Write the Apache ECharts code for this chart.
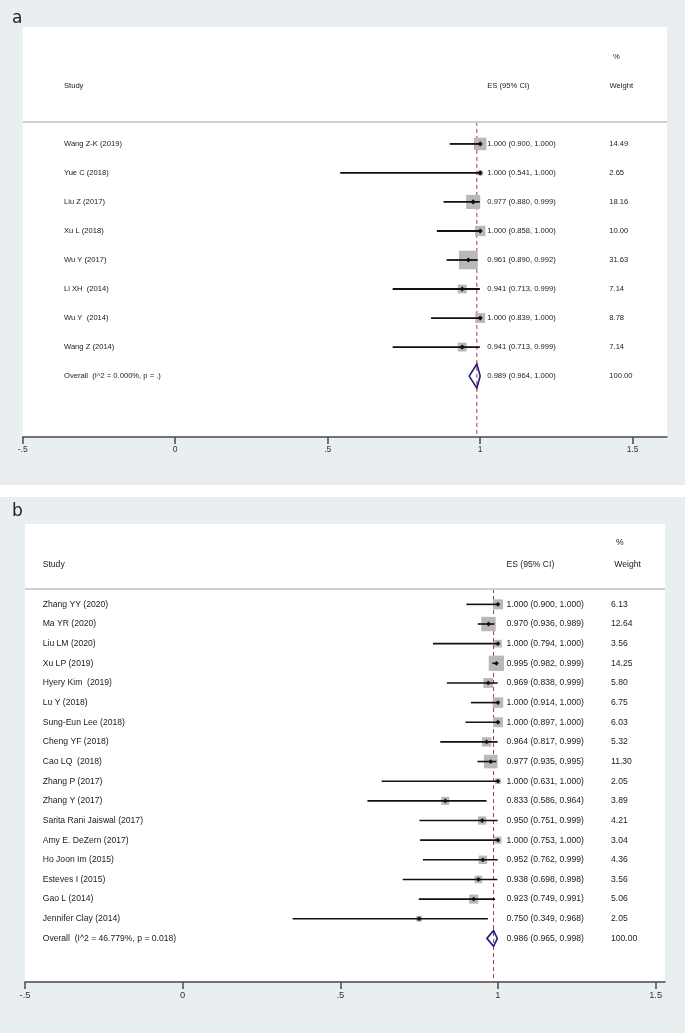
<!DOCTYPE html>
<html><head><meta charset="utf-8">
<script src="https://cdn.jsdelivr.net/npm/echarts@6/dist/echarts.min.js"></script>
<style>
html,body{margin:0;padding:0;background:#fff;}
#wrap{position:relative;width:685px;height:1035px;}
.bg{position:absolute;left:0;width:685px;background:#e9eef1;}
#c{position:absolute;left:0;top:0;width:685px;height:1035px;}
</style>
</head><body>
<div id="wrap">
<div class="bg" style="top:0;height:485px"></div>
<div class="bg" style="top:497px;height:536px"></div>
<div id="c"></div>
</div>
<script>
// ---------- Panel a data ----------
const studiesA = ['Wang Z-K (2019)','Yue C (2018)','Liu Z (2017)','Xu L (2018)','Wu Y (2017)','Li XH  (2014)','Wu Y  (2014)','Wang Z (2014)'];
const esA      = [1.000, 1.000, 0.977, 1.000, 0.961, 0.941, 1.000, 0.941];
const loA      = [0.900, 0.541, 0.880, 0.858, 0.890, 0.713, 0.839, 0.713];
const hiA      = [1.000, 1.000, 0.999, 1.000, 0.992, 0.999, 1.000, 0.999];
const weightA  = [14.49, 2.65, 18.16, 10.00, 31.63, 7.14, 8.78, 7.14];
const overallLabelA = 'Overall  (I^2 = 0.000%, p = .)';
const overallA = [0.989, 0.964, 1.000, 100.00];

// ---------- Panel b data ----------
const studiesB = ['Zhang YY (2020)','Ma YR (2020)','Liu LM (2020)','Xu LP (2019)','Hyery Kim  (2019)','Lu Y (2018)','Sung-Eun Lee (2018)','Cheng YF (2018)','Cao LQ  (2018)','Zhang P (2017)','Zhang Y (2017)','Sarita Rani Jaiswal (2017)','Amy E. DeZern (2017)','Ho Joon Im (2015)','Esteves I (2015)','Gao L (2014)','Jennifer Clay (2014)'];
const esB      = [1.000, 0.970, 1.000, 0.995, 0.969, 1.000, 1.000, 0.964, 0.977, 1.000, 0.833, 0.950, 1.000, 0.952, 0.938, 0.923, 0.750];
const loB      = [0.900, 0.936, 0.794, 0.982, 0.838, 0.914, 0.897, 0.817, 0.935, 0.631, 0.586, 0.751, 0.753, 0.762, 0.698, 0.749, 0.349];
const hiB      = [1.000, 0.989, 1.000, 0.999, 0.999, 1.000, 1.000, 0.999, 0.995, 1.000, 0.964, 0.999, 1.000, 0.999, 0.998, 0.991, 0.968];
const weightB  = [6.13, 12.64, 3.56, 14.25, 5.80, 6.75, 6.03, 5.32, 11.30, 2.05, 3.89, 4.21, 3.04, 4.36, 3.56, 5.06, 2.05];
const overallLabelB = 'Overall  (I^2 = 46.779%, p = 0.018)';
const overallB = [0.986, 0.965, 0.998, 100.00];

// ---------- Axis ticks ----------
const tickValues = [-0.5, 0, 0.5, 1, 1.5];
const tickLabels = ['-.5', '0', '.5', '1', '1.5'];
const headers = {study: 'Study', es: 'ES (95% CI)', pct: '%', weight: 'Weight'};
const panelLabels = ['a', 'b'];

// ---------- Layout (styles / positions) ----------
const FONT = '"Liberation Sans", Arial, sans-serif';
const panels = [
  {label: 0, studies: studiesA, es: esA, lo: loA, hi: hiA, w: weightA, ovLabel: overallLabelA, ov: overallA,
   grid: {left: 22.7, right: 18, top: 27, height: 410}, xMax: 1.6125, yMin: -4.03, yMax: 10.10,
   pctRow: -3, headRow: -2, sepRow: -0.76,
   studyX: 41.3, esX: 464.6, wX: 586.6, wHX: 586.8, pctX: 590.3,
   fs: 7.6, axFs: 8.5, axMargin: 8, boxK: 3.3, dot: 2.6, ciW: 1.8, diaH: 12, diaW: 1.6, labelY: 19.5},
  {label: 1, studies: studiesB, es: esB, lo: loB, hi: hiB, w: weightB, ovLabel: overallLabelB, ov: overallB,
   grid: {left: 25, right: 20, top: 524, height: 458}, xMax: 1.5298, yMin: -4.09, yMax: 19.22,
   pctRow: -3.12, headRow: -2, sepRow: -0.78,
   studyX: 17.7, esX: 481.5, wX: 586, wHX: 589.3, pctX: 591,
   fs: 8.6, axFs: 9.3, axMargin: 9, boxK: 4.05, dot: 2.4, ciW: 1.6, diaH: 8, diaW: 1.6, labelY: 512.5}
];

const grids = [], xAxes = [], yAxes = [], series = [], graphics = [];

panels.forEach((P, pi) => {
  grids.push({left: P.grid.left, right: P.grid.right, top: P.grid.top, height: P.grid.height,
    show: true, backgroundColor: '#ffffff', borderWidth: 0, containLabel: false});
  xAxes.push({type: 'value', gridIndex: pi, min: -0.5, max: P.xMax,
    axisLine: {show: true, onZero: false, lineStyle: {color: '#4a4a4a', width: 1.5}},
    axisTick: {show: true, customValues: tickValues, length: 7, lineStyle: {color: '#4a4a4a', width: 1.5}},
    axisLabel: {show: true, customValues: tickValues, margin: P.axMargin, fontSize: P.axFs, fontFamily: FONT, color: '#333',
      formatter: v => { const k = tickValues.findIndex(t => Math.abs(t - v) < 1e-9); return k >= 0 ? tickLabels[k] : ''; }},
    splitLine: {show: false}});
  yAxes.push({type: 'value', gridIndex: pi, inverse: true, min: P.yMin, max: P.yMax, show: false});

  // rows data: [es, lo, hi, weight, rowIndex, isOverall]
  const data = P.studies.map((s, i) => [P.es[i], P.lo[i], P.hi[i], P.w[i], i, 0]);
  data.push([P.ov[0], P.ov[1], P.ov[2], P.ov[3], P.studies.length, 1]);
  const names = P.studies.concat([P.ovLabel]);

  // dashed reference line at overall estimate
  series.push({type: 'line', xAxisIndex: pi, yAxisIndex: pi, silent: true, symbol: 'none', z: 1,
    data: [[P.ov[0], P.sepRow], [P.ov[0], P.yMax]],
    lineStyle: {color: '#a8384c', width: 1, type: [4, 3]}});

  // header + separator
  series.push({type: 'custom', xAxisIndex: pi, yAxisIndex: pi, silent: true, clip: false, z: 2,
    data: [[0, P.headRow]],
    encode: {x: 0, y: 1},
    renderItem: (params, api) => {
      const cs = params.coordSys;
      const yH = api.coord([0, P.headRow])[1];
      const yP = api.coord([0, P.pctRow])[1];
      const yS = api.coord([0, P.sepRow])[1];
      const st = (t, x, y) => ({type: 'text', style: {text: t, x: x, y: y, fill: '#1a1a1a', font: P.fs + 'px ' + FONT, align: 'left', verticalAlign: 'middle'}});
      return {type: 'group', children: [
        {type: 'line', shape: {x1: cs.x, y1: yS, x2: cs.x + cs.width, y2: yS}, style: {stroke: '#cfcfcf', lineWidth: 2}},
        st(headers.study, cs.x + P.studyX, yH),
        st(headers.es, cs.x + P.esX, yH),
        st(headers.weight, cs.x + P.wHX, yH),
        st(headers.pct, cs.x + P.pctX, yP)
      ]};
    }});

  // study rows
  series.push({type: 'custom', xAxisIndex: pi, yAxisIndex: pi, silent: true, clip: false, z: 3,
    data: data,
    encode: {x: [0, 1, 2], y: 4},
    renderItem: (params, api) => {
      const cs = params.coordSys;
      const es = api.value(0), lo = api.value(1), hi = api.value(2), w = api.value(3), row = api.value(4), ov = api.value(5);
      const pE = api.coord([es, row]);
      const y = pE[1], xe = pE[0];
      const xl = api.coord([lo, row])[0];
      const xh = api.coord([hi, row])[0];
      const ch = [];
      if (ov) {
        ch.push({type: 'polygon', shape: {points: [[xl, y], [xe, y - P.diaH], [xh, y], [xe, y + P.diaH]]},
          style: {fill: null, stroke: '#1d1d7e', lineWidth: P.diaW}});
      } else {
        const s = P.boxK * Math.sqrt(w);
        ch.push({type: 'rect', shape: {x: xe - s / 2, y: y - s / 2, width: s, height: s}, style: {fill: '#b8b8b8'}});
        ch.push({type: 'line', shape: {x1: xl, y1: y, x2: xh, y2: y}, style: {stroke: '#111', lineWidth: P.ciW}});
        const d = P.dot;
        ch.push({type: 'polygon', shape: {points: [[xe - d, y], [xe, y - d], [xe + d, y], [xe, y + d]]}, style: {fill: '#111'}});
      }
      const txt = (t, x) => ({type: 'text', style: {text: t, x: x, y: y, fill: '#1a1a1a', font: P.fs + 'px ' + FONT, align: 'left', verticalAlign: 'middle'}});
      ch.push(txt(names[params.dataIndex], cs.x + P.studyX));
      ch.push(txt(es.toFixed(3) + ' (' + lo.toFixed(3) + ', ' + hi.toFixed(3) + ')', cs.x + P.esX));
      ch.push(txt(w.toFixed(2), cs.x + P.wX));
      return {type: 'group', children: ch};
    }});

  graphics.push({type: 'text', left: 12, top: P.labelY - 9, z: 10,
    style: {text: panelLabels[P.label], font: '17px "DejaVu Sans", sans-serif', fill: '#222'}});
});

const chart = echarts.init(document.getElementById('c'), null, {renderer: 'canvas'});
chart.setOption({
  backgroundColor: 'transparent',
  animation: false,
  grid: grids, xAxis: xAxes, yAxis: yAxes, series: series,
  graphic: graphics
});
</script>
</body></html>
